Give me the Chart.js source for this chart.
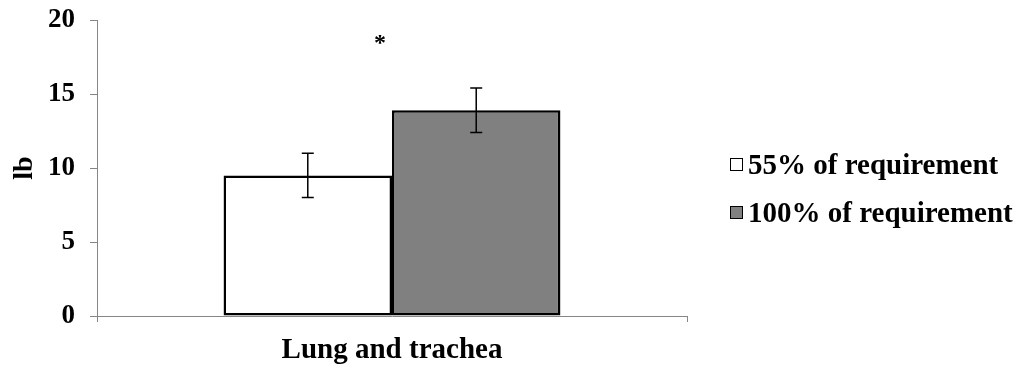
<!DOCTYPE html>
<html>
<head>
<meta charset="utf-8">
<script src="https://cdn.jsdelivr.net/npm/chart.js@4"></script>
<style>
  html, body { margin: 0; padding: 0; background: #fff; }
  #wrap { position: relative; width: 1024px; height: 367px; }
  #legend { position: absolute; left: 730px; top: 140px; font-family: 'Liberation Serif', 'Times New Roman', serif; font-weight: bold; font-size: 29px; color: #000; }
  .item { display: flex; align-items: center; height: 48px; line-height: 1; }
  .box { width: 11px; height: 11px; border: 1.5px solid #000; margin-right: 5px; box-sizing: content-box; }
</style>
</head>
<body>
<div id="wrap">
  <canvas id="c" width="1024" height="367"></canvas>
  <div id="legend"></div>
</div>
<script>
const categories = ['Lung and trachea'];
const seriesNames = ['55% of requirement', '100% of requirement'];
const series55 = [9.5];
const series100 = [13.9];
const err55 = [1.5];
const err100 = [1.5];
const yTicks = [0, 5, 10, 15, 20];
const sigMarks = ['*'];
const sigValues = [18.8];

const fillColors = ['#ffffff', '#808080'];
const serif = "'Liberation Serif', 'Times New Roman', serif";

const errorBarPlugin = {
  id: 'errorBars',
  afterDatasetsDraw(chart) {
    const ctx = chart.ctx;
    const y = chart.scales.y;
    ctx.save();
    ctx.strokeStyle = '#000';
    ctx.lineWidth = 1.5;
    chart.data.datasets.forEach((ds, di) => {
      const meta = chart.getDatasetMeta(di);
      meta.data.forEach((bar, i) => {
        const v = ds.data[i], e = ds.errors[i];
        const top = y.getPixelForValue(v + e), bot = y.getPixelForValue(v - e);
        const x = bar.x, cap = 6;
        ctx.beginPath();
        ctx.moveTo(x, top); ctx.lineTo(x, bot);
        ctx.moveTo(x - cap, top); ctx.lineTo(x + cap, top);
        ctx.moveTo(x - cap, bot); ctx.lineTo(x + cap, bot);
        ctx.stroke();
      });
    });
    // significance marks
    ctx.fillStyle = '#000';
    ctx.font = 'bold 24px ' + serif;
    ctx.textAlign = 'center';
    ctx.textBaseline = 'middle';
    sigMarks.forEach((m, i) => {
      const x = chart.scales.x.getPixelForValue(i) - 12;
      ctx.fillText(m, x, y.getPixelForValue(sigValues[i]) + 6);
    });
    ctx.restore();
  }
};

new Chart(document.getElementById('c'), {
  type: 'bar',
  data: {
    labels: categories,
    datasets: [
      { label: seriesNames[0], data: series55, errors: err55, backgroundColor: fillColors[0], borderColor: '#000', borderWidth: 2.5, borderSkipped: false },
      { label: seriesNames[1], data: series100, errors: err100, backgroundColor: fillColors[1], borderColor: '#000', borderWidth: 2.5, borderSkipped: false }
    ]
  },
  options: {
    responsive: false,
    animation: false,
    devicePixelRatio: 1,
    layout: { padding: { top: 20, right: 337, left: 0, bottom: 0 } },
    datasets: { bar: { categoryPercentage: 0.571, barPercentage: 1.0 } },
    plugins: { legend: { display: false }, tooltip: { enabled: false } },
    scales: {
      x: {
        offset: true,
        grid: { offset: true, drawOnChartArea: false, tickLength: 6, color: '#868686', lineWidth: 1 },
        border: { color: '#868686', width: 1 },
        ticks: { color: '#000', padding: 11, font: { family: serif, weight: 'bold', size: 29 } },
        afterFit(s) { s.height = 51; s.paddingLeft = 0; s.paddingRight = 0; }
      },
      y: {
        min: 0, max: 20,
        afterBuildTicks(s) { s.ticks = yTicks.map(v => ({ value: v })); },
        grid: { drawOnChartArea: false, tickLength: 7, color: '#868686', lineWidth: 1 },
        border: { color: '#868686', width: 1 },
        ticks: { color: '#000', padding: 15, font: { family: serif, weight: 'bold', size: 27 } },
        title: { display: true, text: 'lb', color: '#000', padding: { top: 8, bottom: 0 }, font: { family: serif, weight: 'bold', size: 28 } },
        afterFit(s) { s.width = 97; s.paddingTop = 0; s.paddingBottom = 0; }
      }
    }
  },
  plugins: [errorBarPlugin]
});

const legend = document.getElementById('legend');
seriesNames.forEach((name, i) => {
  const it = document.createElement('div');
  it.className = 'item';
  const b = document.createElement('span');
  b.className = 'box';
  b.style.background = fillColors[i];
  const t = document.createElement('span');
  t.textContent = name;
  it.appendChild(b); it.appendChild(t);
  legend.appendChild(it);
});
</script>
</body>
</html>
